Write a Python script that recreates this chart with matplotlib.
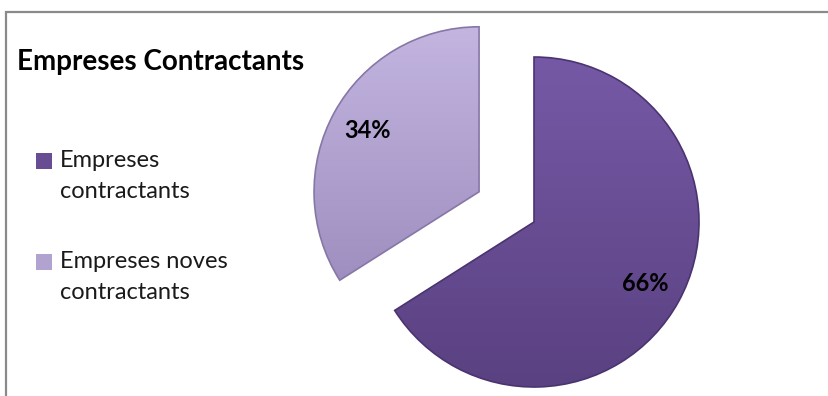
import matplotlib
matplotlib.use("Agg")
import matplotlib.pyplot as plt
import numpy as np
from matplotlib.colors import LinearSegmentedColormap
from matplotlib.patches import Rectangle

# chart data
title = "Empreses Contractants"
labels = ["Empreses\ncontractants", "Empreses noves\ncontractants"]
shares = [66, 34]
explode_frac = [0.0, 0.38]   # as a fraction of the radius
colors_top = ["#7659a6", "#c3b5e0"]
colors_bottom = ["#5a4181", "#9f8fc0"]
colors_mid = ["#684d93", "#b1a2d0"]
edge_colors = ["#4a3470", "#8677a6"]

W, H = 829, 396
R = 165
plt.rcParams['font.family'] = ['Lato', 'DejaVu Sans']

fig = plt.figure(figsize=(W / 100, H / 100), dpi=100)
ax = fig.add_axes([0, 0, 1, 1])
# axes in pixel units, y going up
ax.set_xlim(0, W)
ax.set_ylim(0, H)
ax.set_aspect('equal')
ax.axis('off')

# frame of the chart area (cut off at right and bottom)
ax.add_patch(Rectangle((6, -20), W + 40, H - 12 + 20, fill=False,
                       edgecolor='#8a8a8a', linewidth=1.6, zorder=0))

wedges, _, pct_texts = ax.pie(
    shares, explode=[e * R for e in explode_frac], colors=colors_mid,
    startangle=90, counterclock=False, center=(534, H - 222), radius=R,
    autopct='%.0f%%', pctdistance=0.77,
    wedgeprops=dict(edgecolor='none', linewidth=0),
    textprops=dict(fontsize=17, fontweight='bold', color='black'))

# vertical gradient inside every wedge
for w, c0, c1, ec in zip(wedges, colors_top, colors_bottom, edge_colors):
    x0, y0, x1, y1 = w.get_path().get_extents(w.get_patch_transform()).extents
    cmap = LinearSegmentedColormap.from_list('g', [c1, c0])
    grad = np.linspace(0, 1, 256).reshape(-1, 1)
    im = ax.imshow(grad, cmap=cmap, extent=(x0, x1, y0, y1), origin='lower',
                   aspect='auto', zorder=1)
    im.set_clip_path(w)
    w.set_zorder(2)
    w.set_facecolor('none')
    w.set_edgecolor(ec)
    w.set_linewidth(1.2)
for t in pct_texts:
    t.set_zorder(3)

ax.set_xlim(0, W)
ax.set_ylim(0, H)

# title
ax.text(17, H - 62, title, fontsize=20, fontweight='bold', color='black',
        ha='left', va='center')

# legend drawn by hand so the square lines up with the first text line
legend_y = [161, 262]
for lab, col, ly in zip(labels, colors_mid, legend_y):
    ax.add_patch(Rectangle((36, H - ly - 8), 16, 16, facecolor=col,
                           edgecolor='none'))
    ax.text(60, H - ly + 11, lab, fontsize=17, color='#1a1a1a',
            ha='left', va='top', linespacing=1.6)

fig.savefig('out.png', dpi=100)
